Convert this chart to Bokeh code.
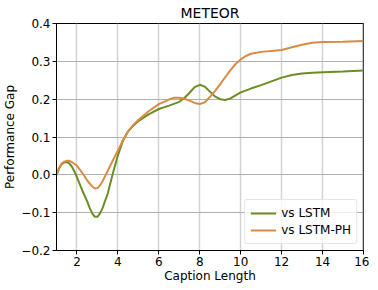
from bokeh.plotting import figure
from bokeh.models import Range1d, FixedTicker, CustomJSTickFormatter, Span, Legend, LegendItem
from bokeh.embed import file_html
from bokeh.resources import INLINE

x_lstm = [1.0, 1.125, 1.25, 1.375, 1.5, 1.625, 1.75, 1.875, 2.0, 2.25, 2.5, 2.625, 2.75, 2.875,
          3.0, 3.125, 3.25, 3.5, 3.75, 4.0, 4.25, 4.5, 4.75, 5.0, 5.5, 6.0, 6.5, 7.0, 7.25, 7.5,
          7.75, 8.0, 8.25, 8.5, 8.75, 9.0, 9.25, 9.5, 10.0, 10.5, 11.0, 11.5, 12.0, 12.5, 13.0,
          13.5, 14.0, 15.0, 16.0]
y_lstm = [0.000, 0.017, 0.028, 0.033, 0.034, 0.030, 0.022, 0.009, -0.007, -0.040, -0.070, -0.088,
          -0.102, -0.111, -0.111, -0.102, -0.088, -0.050, 0.003, 0.052, 0.090, 0.115, 0.130, 0.142,
          0.160, 0.174, 0.183, 0.193, 0.203, 0.217, 0.232, 0.238, 0.233, 0.220, 0.207, 0.200,
          0.198, 0.202, 0.218, 0.228, 0.237, 0.247, 0.257, 0.264, 0.268, 0.270, 0.271, 0.273, 0.276]

x_ph = [1.0, 1.125, 1.25, 1.375, 1.5, 1.625, 1.75, 2.0, 2.25, 2.5, 2.75, 2.875, 3.0, 3.125, 3.25,
        3.5, 3.75, 4.0, 4.25, 4.5, 4.75, 5.0, 5.5, 6.0, 6.5, 6.75, 7.0, 7.25, 7.5, 7.75, 8.0, 8.25,
        8.5, 8.75, 9.0, 9.5, 9.75, 10.0, 10.25, 10.5, 11.0, 11.5, 12.0, 12.5, 13.0, 13.5, 14.0,
        15.0, 16.0]
y_ph = [0.000, 0.018, 0.029, 0.035, 0.037, 0.037, 0.034, 0.024, 0.006, -0.015, -0.031, -0.036,
        -0.035, -0.028, -0.017, 0.010, 0.038, 0.064, 0.092, 0.115, 0.132, 0.145, 0.168, 0.187,
        0.199, 0.204, 0.204, 0.201, 0.196, 0.190, 0.187, 0.192, 0.206, 0.222, 0.240, 0.277,
        0.293, 0.305, 0.314, 0.320, 0.325, 0.327, 0.330, 0.337, 0.344, 0.349, 0.351, 0.352, 0.354]

x_ticks = [2, 4, 6, 8, 10, 12, 14, 16]
y_ticks = [-0.2, -0.1, 0.0, 0.1, 0.2, 0.3, 0.4]

FONT = "DejaVu Sans"

p = figure(frame_width=307, frame_height=227, output_backend="svg", toolbar_location=None,
           x_range=Range1d(1, 16), y_range=Range1d(-0.2, 0.4),
           min_border_left=48, min_border_right=6, min_border_bottom=0, min_border_top=14)

p.title.text = "METEOR"
p.title.align = "center"
p.title.text_font = FONT
p.title.text_font_size = "14px"
p.title.text_font_style = "normal"
p.title.text_color = "black"
p.title.standoff = 5
p.title.offset = 0

for ax in (p.xaxis[0], p.yaxis[0]):
    ax.axis_line_color = "black"
    ax.major_tick_line_color = "black"
    ax.major_tick_out = 4
    ax.major_tick_in = 0
    ax.minor_tick_line_color = None
    ax.major_label_text_font = FONT
    ax.major_label_text_font_size = "12px"
    ax.major_label_text_color = "black"
    ax.axis_label_text_font = FONT
    ax.axis_label_text_font_size = "12px"
    ax.axis_label_text_font_style = "normal"
    ax.axis_label_text_color = "black"

p.xaxis.ticker = FixedTicker(ticks=x_ticks)
p.yaxis.ticker = FixedTicker(ticks=y_ticks)
p.yaxis.formatter = CustomJSTickFormatter(code="return tick.toFixed(1).replace('-', '\u2212');")
p.xaxis.axis_label = "Caption Length"
p.yaxis.axis_label = "Performance Gap"
p.xaxis.axis_label_standoff = 0
p.yaxis.axis_label_standoff = 1
p.xaxis.major_label_standoff = 2
p.yaxis.major_label_standoff = 2

p.xgrid.grid_line_color = "#d3d3d3"
p.xgrid.grid_line_width = 1.5
p.ygrid.grid_line_color = "#b0b0b0"
p.ygrid.grid_line_width = 1

p.outline_line_color = "black"
p.outline_line_width = 1

green = "#6B8E23"
orange = "#DB8A44"

r1 = p.line(x_lstm, y_lstm, line_color=green, line_width=2)
r2 = p.line(x_ph, y_ph, line_color=orange, line_width=2)

p.add_layout(Span(location=16, dimension="height", line_color="#8a8a8a", line_width=2, level="overlay"))

legend = Legend(items=[LegendItem(label="vs LSTM", renderers=[r1]),
                       LegendItem(label="vs LSTM-PH", renderers=[r2])],
                location="bottom_right")
legend.label_text_font = FONT
legend.label_text_font_size = "12px"
legend.label_text_color = "black"
legend.glyph_width = 26
legend.glyph_height = 16
legend.label_height = 16
legend.spacing = 1
legend.padding = 5
legend.margin = 6
legend.border_line_color = "#cccccc"
legend.border_line_width = 1
legend.border_radius = 3
legend.background_fill_alpha = 0.8
p.add_layout(legend)

open("out.html", "w").write(file_html(p, INLINE))
